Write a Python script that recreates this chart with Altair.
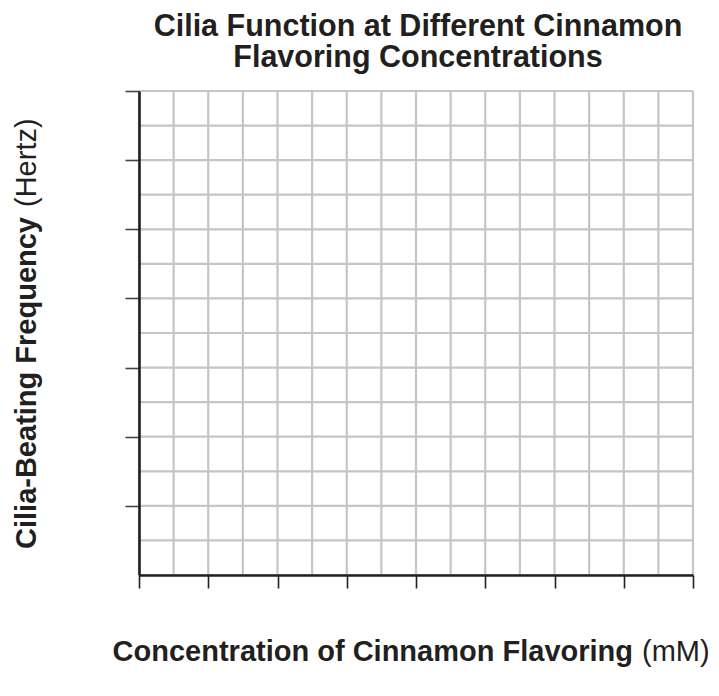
import altair as alt
import pandas as pd

# ---- data (an empty graph-paper grid) ----
x_cells = list(range(0, 17))          # vertical grid lines (16 columns)
y_cells = list(range(0, 15))          # horizontal grid lines (14 rows)
x_ticks = list(range(0, 17, 2))       # major ticks on the x axis
y_ticks = list(range(2, 15, 2))       # major ticks on the y axis
title_lines = ["Cilia Function at Different Cinnamon", "Flavoring Concentrations"]
x_title_bold = "Concentration of Cinnamon Flavoring"
x_title_unit = "(mM)"
y_title_bold = "Cilia-Beating Frequency"
y_title_unit = "(Hertz)"

W, H = 554, 484
FONT = "Liberation Sans"
INK = "#231f20"
GRID = "#c5c5c8"

xs = alt.Scale(domain=[0, 16], nice=False, zero=False)
ys = alt.Scale(domain=[0, 14], nice=False, zero=False)

x_axis = alt.Axis(values=x_ticks, labels=False, grid=False, title=None,
                  domainColor=INK, domainWidth=2.6, tickColor=INK,
                  tickWidth=1.6, tickSize=13, zindex=1)
y_axis = alt.Axis(values=y_ticks, labels=False, grid=False, title=None,
                  domainColor=INK, domainWidth=2.6, tickColor="#444444",
                  tickWidth=1.6, tickSize=14, zindex=1)

vgrid = pd.DataFrame({"gx": x_cells, "y0": 0, "y1": 14})
hgrid = pd.DataFrame({"gy": y_cells, "x0": 0, "x1": 16})

vlines = alt.Chart(vgrid).mark_rule(color=GRID, strokeWidth=2.2).encode(
    x=alt.X("gx:Q", scale=xs, axis=x_axis),
    y=alt.Y("y0:Q", scale=ys, axis=y_axis),
    y2="y1:Q",
)
hlines = alt.Chart(hgrid).mark_rule(color=GRID, strokeWidth=2.2).encode(
    y=alt.Y("gy:Q", scale=ys, axis=y_axis),
    x=alt.X("x0:Q", scale=xs, axis=x_axis),
    x2="x1:Q",
)

one = pd.DataFrame({"k": [0]})


def label(text, x, y, size, weight, align="center", angle=0, baseline="middle"):
    return alt.Chart(one).mark_text(
        font=FONT, fontSize=size, fontWeight=weight, color=INK,
        align=align, baseline=baseline, angle=angle,
    ).encode(x=alt.value(x), y=alt.value(y), text=alt.value(text))


texts = [
    label(title_lines[0], 279, -55, 30.5, "bold", baseline="alphabetic"),
    label(title_lines[1], 279, -24, 30.5, "bold", baseline="alphabetic"),
    label(x_title_bold, 494, 561, 29, "bold", align="right"),
    label(x_title_unit, 503, 561, 29, "normal", align="left"),
    label(y_title_bold, -112, 126, 29, "bold", align="right", angle=270),
    label(y_title_unit, -112, 116, 29, "normal", align="left", angle=270),
]

chart = alt.layer(vlines, hlines, *texts).properties(
    width=W, height=H,
    autosize=alt.AutoSizeParams(type="none"),
    padding={"left": 131, "top": 83, "right": 18, "bottom": 113},
).configure_view(stroke=None).configure(background="white")

chart.save("out.html", embed_options={"renderer": "svg", "actions": False})
